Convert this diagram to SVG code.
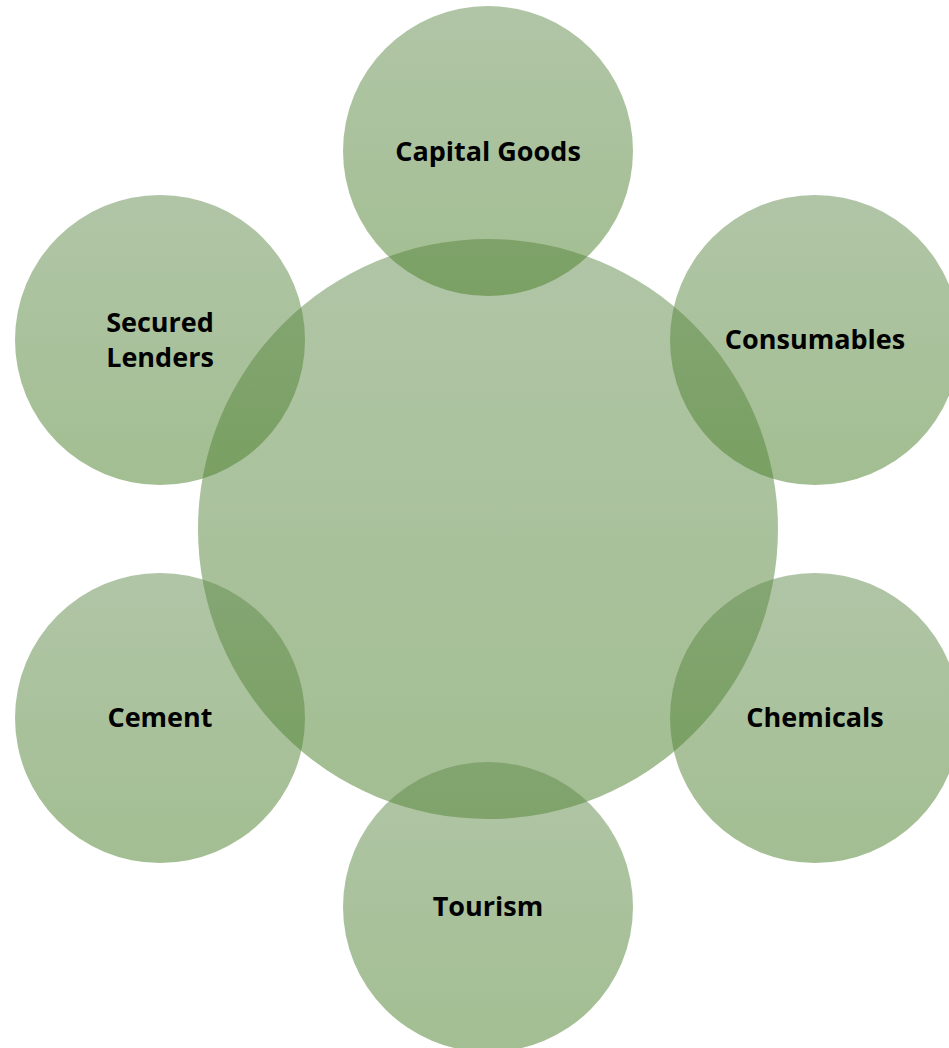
<svg xmlns="http://www.w3.org/2000/svg" width="949" height="1048" viewBox="0 0 949 1048">
  <defs>
    <linearGradient id="greenFill" x1="0" y1="0" x2="0" y2="1">
      <stop offset="0" stop-color="#618b4d" stop-opacity="0.5"/>
      <stop offset="1" stop-color="#477d25" stop-opacity="0.5"/>
    </linearGradient>
    <style>
      .bubble { fill: url(#greenFill); }
      .label { font-family: "Open Sans", "Noto Sans", "Liberation Sans", sans-serif; font-weight: bold; font-size: 27px; fill: #000; text-anchor: middle; }
    </style>
  </defs>
  <rect width="949" height="1048" fill="#ffffff"/>

  <!-- central hub, drawn first so the outer bubbles overlap it -->
  <g id="hub">
    <circle class="bubble" cx="488" cy="529" r="290"/>
  </g>

  <g id="capital-goods">
    <circle class="bubble" cx="488" cy="151" r="145"/>
    <text class="label" x="488" y="161">Capital Goods</text>
  </g>

  <g id="consumables">
    <circle class="bubble" cx="815" cy="340" r="145"/>
    <text class="label" x="815" y="349">Consumables</text>
  </g>

  <g id="chemicals">
    <circle class="bubble" cx="815" cy="718" r="145"/>
    <text class="label" x="815" y="727">Chemicals</text>
  </g>

  <g id="tourism">
    <circle class="bubble" cx="488" cy="907" r="145"/>
    <text class="label" x="488" y="916">Tourism</text>
  </g>

  <g id="cement">
    <circle class="bubble" cx="160" cy="718" r="145"/>
    <text class="label" x="160" y="727">Cement</text>
  </g>

  <g id="secured-lenders">
    <circle class="bubble" cx="160" cy="340" r="145"/>
    <text class="label" x="160" y="332">Secured</text>
    <text class="label" x="160" y="367">Lenders</text>
  </g>

  <g id="connectors"/>
</svg>
